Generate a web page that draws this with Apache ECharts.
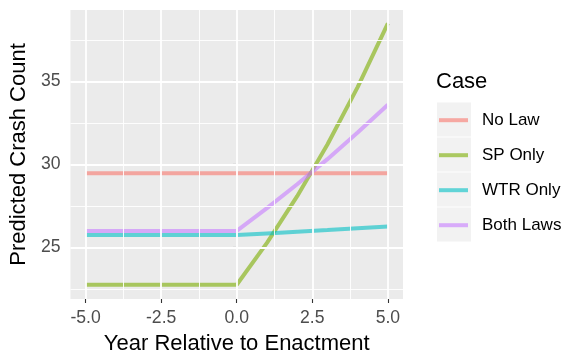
<!DOCTYPE html>
<html>
<head>
<meta charset="utf-8">
<script src="https://cdn.jsdelivr.net/npm/echarts@6/dist/echarts.min.js"></script>
<style>
  html, body { margin: 0; padding: 0; background: #ffffff; }
  #chart { width: 563px; height: 360px; }
</style>
</head>
<body>
<div id="chart"></div>
<script>
// Years relative to law enactment
const years = [-5, -4, -3, -2, -1, 0, 1, 2, 3, 4, 5];

// Predicted crash counts per scenario
const noLaw    = [29.47, 29.47, 29.47, 29.47, 29.47, 29.47, 29.47, 29.47, 29.47, 29.47, 29.47];
const spOnly   = [22.76, 22.76, 22.76, 22.76, 22.76, 22.76, 25.28, 28.09, 31.20, 34.66, 38.50];
const wtrOnly  = [25.75, 25.75, 25.75, 25.75, 25.75, 25.75, 25.85, 25.95, 26.05, 26.16, 26.26];
const bothLaws = [26.00, 26.00, 26.00, 26.00, 26.00, 26.00, 27.37, 28.81, 30.32, 31.92, 33.60];

const caseNames = ['No Law', 'SP Only', 'WTR Only', 'Both Laws'];
const caseValues = [noLaw, spOnly, wtrOnly, bothLaws];

// Axis ticks and grid positions
const xTicks = [-5, -2.5, 0, 2.5, 5];
const xMinor = [-3.75, -1.25, 1.25, 3.75];
const yTicks = [25, 30, 35];
const yMinor = [22.5, 27.5, 32.5, 37.5];

const palette = [
  'rgba(248,118,109,0.6)',
  'rgba(124,174,0,0.6)',
  'rgba(0,191,196,0.6)',
  'rgba(199,124,255,0.6)'
];

const FONT = '"Liberation Sans", Arial, sans-serif';

function gridLine(axisKey, value, width) {
  return { [axisKey]: value, lineStyle: { color: '#ffffff', width: width, type: 'solid' } };
}

const gridMarks = []
  .concat(xMinor.map(v => gridLine('xAxis', v, 0.9)))
  .concat(yMinor.map(v => gridLine('yAxis', v, 0.9)))
  .concat(xTicks.map(v => gridLine('xAxis', v, 1.8)))
  .concat(yTicks.map(v => gridLine('yAxis', v, 1.8)));

const series = [{
  name: 'panel-grid',
  type: 'line',
  data: [],
  z: 1,
  silent: true,
  markLine: {
    silent: true,
    symbol: ['none', 'none'],
    label: { show: false },
    emphasis: { disabled: true },
    animation: false,
    data: gridMarks
  }
}].concat(caseNames.map((name, i) => ({
  name: name,
  type: 'line',
  z: 2,
  showSymbol: false,
  symbol: 'none',
  color: palette[i],
  lineStyle: { width: 4, color: palette[i], cap: 'butt' },
  data: years.map((x, j) => [x, caseValues[i][j]])
})));

const chart = echarts.init(document.getElementById('chart'), null, { renderer: 'canvas' });

chart.setOption({
  animation: false,
  backgroundColor: '#ffffff',
  textStyle: { fontFamily: FONT },
  grid: {
    left: 68, top: 10, right: 160, bottom: 58,
    show: true, backgroundColor: '#EBEBEB', borderWidth: 0
  },
  xAxis: {
    type: 'value',
    min: -5.5, max: 5.5,
    name: 'Year Relative to Enactment',
    nameLocation: 'middle',
    nameGap: 34,
    nameTextStyle: { color: '#000000', fontSize: 22, fontFamily: FONT },
    axisLine: { show: false },
    axisTick: { show: true, customValues: xTicks, length: 4, lineStyle: { color: '#333333', width: 1.1 } },
    axisLabel: {
      customValues: xTicks, margin: 10, color: '#4D4D4D', fontSize: 17.6, fontFamily: FONT,
      formatter: v => v.toFixed(1)
    },
    splitLine: { show: false }
  },
  yAxis: {
    type: 'value',
    min: 21.9, max: 39.3,
    name: 'Predicted Crash Count',
    nameLocation: 'middle',
    nameGap: 33,
    nameRotate: 90,
    nameTextStyle: { color: '#000000', fontSize: 22, fontFamily: FONT },
    axisLine: { show: false },
    axisTick: { show: true, customValues: yTicks, length: 4, lineStyle: { color: '#333333', width: 1.1 } },
    axisLabel: {
      customValues: yTicks, margin: 10, color: '#4D4D4D', fontSize: 17.6, fontFamily: FONT,
      formatter: v => String(v)
    },
    splitLine: { show: false }
  },
  title: {
    text: 'Case',
    left: 436, top: 71, padding: 0,
    textStyle: { color: '#000000', fontSize: 22, fontWeight: 'normal', fontFamily: FONT }
  },
  legend: {
    data: caseNames,
    orient: 'vertical',
    left: 439, top: 111.7,
    padding: 0,
    icon: 'rect',
    itemWidth: 29,
    itemHeight: 4,
    itemGap: 18,
    selectedMode: false,
    textStyle: { color: '#000000', fontSize: 17, fontFamily: FONT, padding: [0, 0, 0, 9] }
  },
  graphic: caseNames.map((n, i) => ({
    type: 'rect',
    z: -1,
    shape: { x: 437, y: 102.5 + i * 35, width: 34, height: 34 },
    style: { fill: '#F2F2F2' },
    silent: true
  })),
  series: series
});
</script>
</body>
</html>
